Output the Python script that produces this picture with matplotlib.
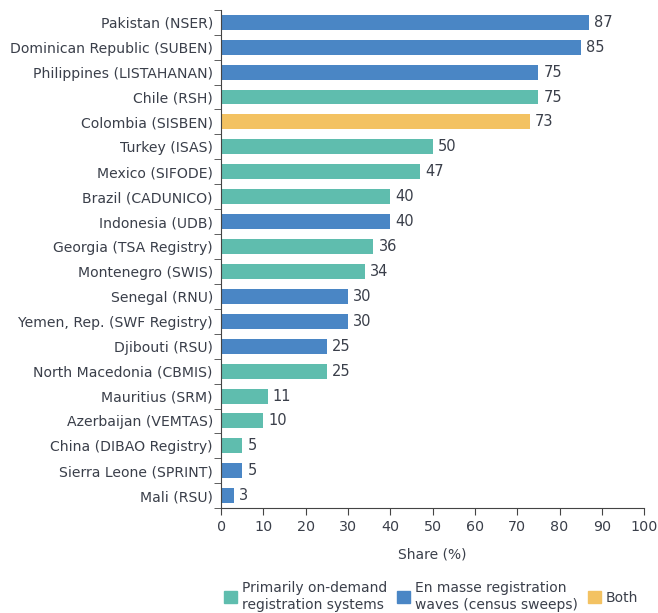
import numpy as np
import matplotlib.pyplot as plt
from matplotlib.patches import Patch

# Data (top to bottom)
countries = ["Pakistan (NSER)", "Dominican Republic (SUBEN)", "Philippines (LISTAHANAN)",
             "Chile (RSH)", "Colombia (SISBEN)", "Turkey (ISAS)", "Mexico (SIFODE)",
             "Brazil (CADUNICO)", "Indonesia (UDB)", "Georgia (TSA Registry)",
             "Montenegro (SWIS)", "Senegal (RNU)", "Yemen, Rep. (SWF Registry)",
             "Djibouti (RSU)", "North Macedonia (CBMIS)", "Mauritius (SRM)",
             "Azerbaijan (VEMTAS)", "China (DIBAO Registry)", "Sierra Leone (SPRINT)",
             "Mali (RSU)"]
shares = [87, 85, 75, 75, 73, 50, 47, 40, 40, 36, 34, 30, 30, 25, 25, 11, 10, 5, 5, 3]
kinds = ["mass", "mass", "mass", "demand", "both", "demand", "demand", "demand", "mass",
         "demand", "demand", "mass", "mass", "mass", "demand", "demand", "demand",
         "demand", "mass", "mass"]

colors = {"demand": "#5fbdae", "mass": "#4a86c5", "both": "#f3c262"}
legend_labels = {"demand": "Primarily on-demand\nregistration systems",
                 "mass": "En masse registration\nwaves (census sweeps)",
                 "both": "Both"}
txt = "#3a3f4a"

plt.rcParams['font.family'] = ['DejaVu Sans']
fig = plt.figure(figsize=(6.58, 6.13), dpi=100)
ax = fig.add_axes([0.336, 0.171, 0.643, 0.813])

y = np.arange(len(countries))
ax.barh(y, shares, height=0.6, color=[colors[k] for k in kinds])
for yi, v in zip(y, shares):
    ax.text(v + 1.2, yi, str(v), va="center", ha="left", fontsize=10.5, color=txt)

ax.set_ylim(len(countries) - 0.5, -0.5)
ax.set_xlim(0, 100)
ax.set_xticks(np.arange(0, 101, 10))
ax.set_yticks(y)
ax.set_yticklabels(countries)
ax.set_yticks(np.arange(-0.5, len(countries)), minor=True)
ax.tick_params(axis="y", which="major", length=0, pad=6, labelsize=10.1, labelcolor=txt)
ax.tick_params(axis="y", which="minor", length=5, direction="out", color="#444444")
ax.tick_params(axis="x", length=5, direction="out", color="#444444", labelsize=10.3,
               labelcolor=txt)
for s in ["top", "right"]:
    ax.spines[s].set_visible(False)
for s in ["left", "bottom"]:
    ax.spines[s].set_color("#444444")
ax.set_xlabel("Share (%)", fontsize=10, color=txt, labelpad=10)

handles = [Patch(color=colors[k], label=legend_labels[k]) for k in ["demand", "mass", "both"]]
fig.legend(handles=handles, loc="lower left", bbox_to_anchor=(0.322, -0.018), ncol=3,
           frameon=False, fontsize=10, labelcolor=txt, handlelength=0.9,
           handleheight=0.9, handletextpad=0.4, columnspacing=0.7, labelspacing=0.2)

fig.savefig("out.png", dpi=100)
